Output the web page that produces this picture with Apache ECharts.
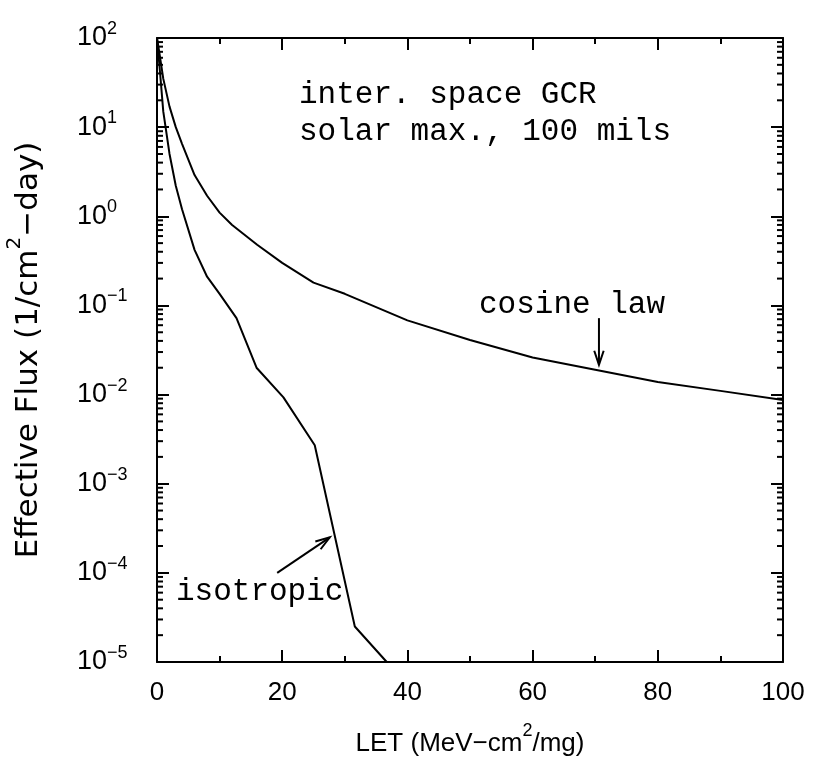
<!DOCTYPE html>
<html>
<head>
<meta charset="utf-8">
<script src="https://cdn.jsdelivr.net/npm/echarts@6/dist/echarts.min.js"></script>
<style>
  html, body { margin: 0; padding: 0; background: #fff; }
  #chart { width: 814px; height: 762px; }
</style>
</head>
<body>
<div id="chart"></div>
<script>
// LET (MeV-cm2/mg) 与有效通量读数
const cosineLet = [0, 0.5, 1, 2, 3, 4, 6, 8, 10, 12, 16, 20, 25, 30, 40, 50, 60, 70, 80, 90, 100];
const cosineFlux = [100, 60, 35, 17, 10, 6.5, 2.9, 1.7, 1.1, 0.8, 0.48, 0.3, 0.18, 0.135, 0.068, 0.041, 0.026, 0.019, 0.0138, 0.011, 0.0087];

const isoLet = [0, 0.5, 1, 2, 3, 4, 6, 8, 10, 12.7, 15.9, 20.2, 25.2, 31.6, 36.7];
const isoFlux = [100, 40, 15, 5, 2.2, 1.2, 0.42, 0.21, 0.135, 0.072, 0.02, 0.0093, 0.0027, 2.5e-5, 1e-5];

// 箭头 [x1, y1, x2, y2]
const arrows = [
  [70.6, 0.072, 70.6, 0.0215],
  [19.2, 1.0e-4, 27.6, 2.5e-4]
];

// 对数轴次刻度 2..9 × 10^d
const minorTicks = [];
for (let d = -5; d < 2; d++) {
  for (let k = 2; k <= 9; k++) minorTicks.push(k * Math.pow(10, d));
}

const sansFont = "Liberation Sans";
const wideFont = "DejaVu Sans";
const monoFont = "Liberation Mono";

const chart = echarts.init(document.getElementById("chart"));

const xBase = {
  type: "value",
  min: 0,
  max: 100,
  interval: 20,
  axisLine: { show: true, onZero: false, lineStyle: { color: "#000", width: 2 } },
  axisTick: { show: true, inside: true, length: 12, lineStyle: { color: "#000", width: 2 } },
  minorTick: { show: true, splitNumber: 2, length: 6, lineStyle: { color: "#000", width: 2 } },
  splitLine: { show: false }
};

const yBase = {
  type: "log",
  logBase: 10,
  min: 1e-5,
  max: 100,
  splitNumber: 7,
  axisLine: { show: true, onZero: false, lineStyle: { color: "#000", width: 2 } },
  axisTick: { show: true, inside: true, length: 12, lineStyle: { color: "#000", width: 2 } },
  splitLine: { show: false }
};

const supLabel = (v) => {
  const e = Math.round(Math.log10(v));
  return "{b|10}{s|" + (e < 0 ? "\u2212" + (-e) : e) + "}";
};

chart.setOption({
  backgroundColor: "#fff",
  animation: false,
  grid: { left: 157, right: 31, top: 38, bottom: 100, outerBoundsMode: "none", containLabel: false },
  xAxis: [
    {
      ...xBase,
      position: "bottom",
      name: "{n|LET (MeV\u2212cm}{s|2}{n|/mg)}",
      nameLocation: "middle",
      nameGap: 60,
      nameTextStyle: {
        rich: {
          n: { fontFamily: sansFont, fontSize: 26, lineHeight: 44, color: "#000" },
          s: { fontFamily: sansFont, fontSize: 18, lineHeight: 18, verticalAlign: "top", color: "#000" }
        }
      },
      axisLabel: { fontFamily: sansFont, fontSize: 26, color: "#000", margin: 18 }
    },
    { ...xBase, position: "top", axisLabel: { show: false } }
  ],
  yAxis: [
    {
      ...yBase,
      position: "left",
      name: "{n|Effective Flux (1/cm}{s|2}{n|\u2212day)}",
      nameLocation: "middle",
      nameGap: 104,
      nameTextStyle: {
        rich: {
          n: { fontFamily: wideFont, fontSize: 31, lineHeight: 48, color: "#000" },
          s: { fontFamily: wideFont, fontSize: 20, lineHeight: 20, verticalAlign: "top", color: "#000" }
        }
      },
      axisLabel: {
        align: "left",
        margin: 80,
        formatter: supLabel,
        rich: {
          b: { fontFamily: sansFont, fontSize: 27, lineHeight: 36, color: "#000" },
          s: { fontFamily: sansFont, fontSize: 18, lineHeight: 18, verticalAlign: "top", color: "#000" }
        }
      }
    },
    { ...yBase, position: "right", axisLabel: { show: false } }
  ],
  series: [
    {
      name: "cosine law",
      type: "line",
      data: cosineLet.map((x, i) => [x, cosineFlux[i]]),
      symbol: "none",
      lineStyle: { color: "#000", width: 2 }
    },
    {
      name: "isotropic",
      type: "line",
      data: isoLet.map((x, i) => [x, isoFlux[i]]),
      symbol: "none",
      lineStyle: { color: "#000", width: 2 }
    },
    {
      // 对数轴次刻度（左右两侧）
      type: "custom",
      silent: true,
      data: minorTicks.map((v) => [0, v]),
      renderItem: (params, api) => {
        const cs = params.coordSys;
        const y = api.coord([0, api.value(1)])[1];
        const style = { stroke: "#000", lineWidth: 2 };
        return {
          type: "group",
          children: [
            { type: "line", shape: { x1: cs.x, y1: y, x2: cs.x + 6, y2: y }, style },
            { type: "line", shape: { x1: cs.x + cs.width, y1: y, x2: cs.x + cs.width - 6, y2: y }, style }
          ]
        };
      }
    },
    {
      // 标注箭头
      type: "custom",
      silent: true,
      dimensions: ["x1", "y1", "x2", "y2"],
      encode: { x: [0, 2], y: [1, 3] },
      data: arrows,
      renderItem: (params, api) => {
        const p1 = api.coord([api.value(0), api.value(1)]);
        const p2 = api.coord([api.value(2), api.value(3)]);
        const ang = Math.atan2(p2[1] - p1[1], p2[0] - p1[0]);
        const len = 15, spread = 0.32;
        const h1 = [p2[0] - len * Math.cos(ang - spread), p2[1] - len * Math.sin(ang - spread)];
        const h2 = [p2[0] - len * Math.cos(ang + spread), p2[1] - len * Math.sin(ang + spread)];
        const style = { stroke: "#000", lineWidth: 2, fill: null };
        return {
          type: "group",
          children: [
            { type: "line", shape: { x1: p1[0], y1: p1[1], x2: p2[0], y2: p2[1] }, style },
            { type: "polyline", shape: { points: [h1, p2, h2] }, style }
          ]
        };
      }
    }
  ],
  graphic: [
    { type: "text", left: 299, top: 79, style: { text: "inter. space GCR", font: "31px " + monoFont, fill: "#000" } },
    { type: "text", left: 299, top: 116, style: { text: "solar max., 100 mils", font: "31px " + monoFont, fill: "#000" } },
    { type: "text", left: 479, top: 289, style: { text: "cosine law", font: "31px " + monoFont, fill: "#000" } },
    { type: "text", left: 176, top: 576, style: { text: "isotropic", font: "31px " + monoFont, fill: "#000" } }
  ]
});
</script>
</body>
</html>
